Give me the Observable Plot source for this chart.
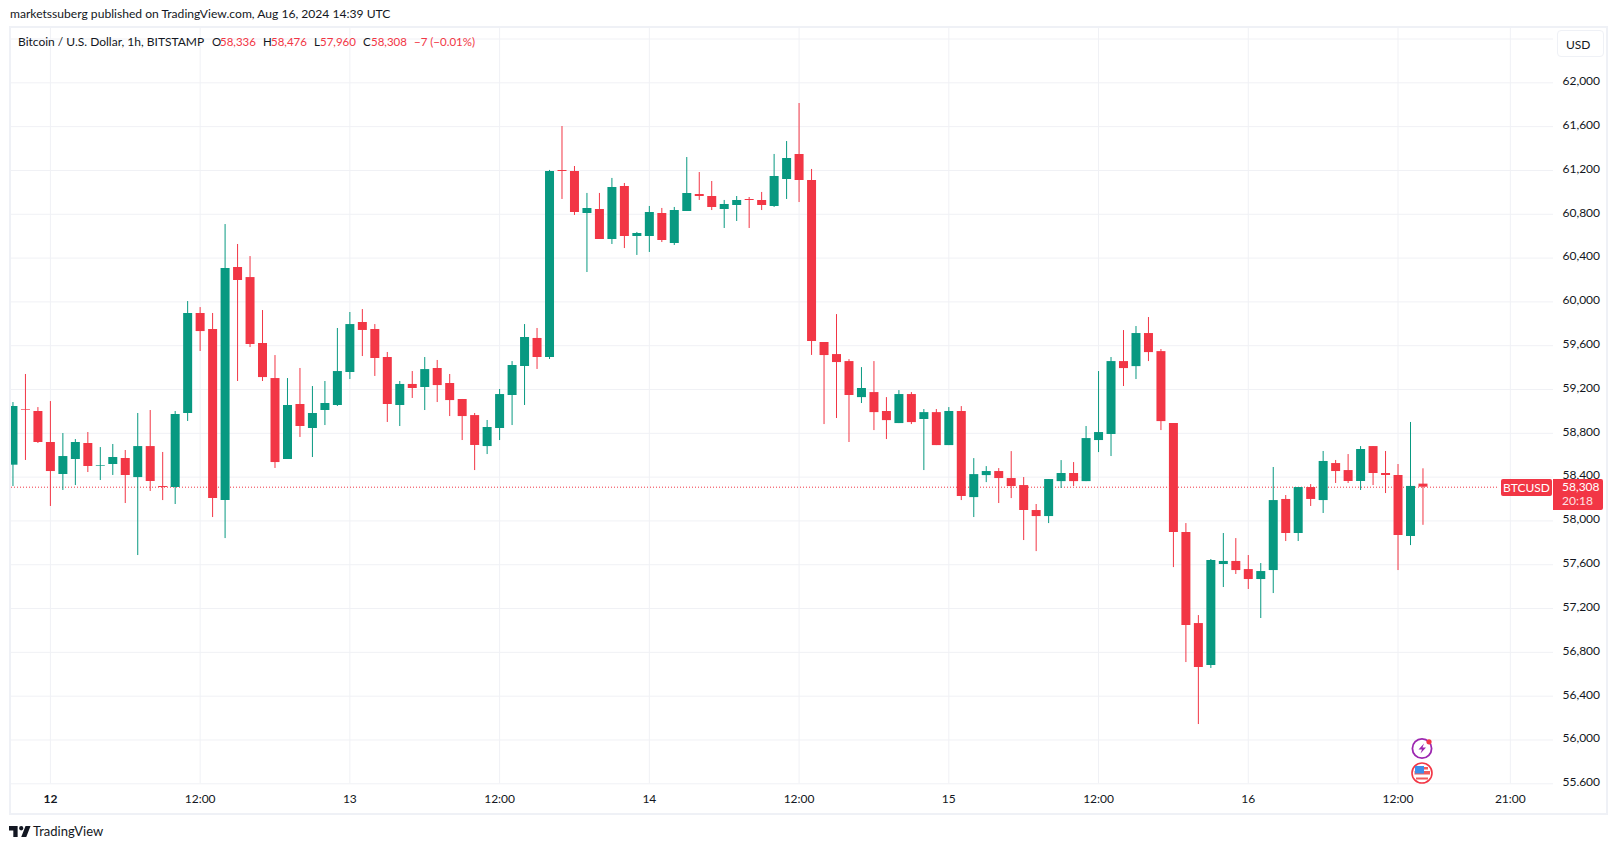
<!DOCTYPE html>
<html>
<head>
<meta charset="utf-8">
<script src="https://cdn.jsdelivr.net/npm/d3@7"></script>
<script src="https://cdn.jsdelivr.net/npm/@observablehq/plot@0.6"></script>
<style>
  html,body{margin:0;padding:0;background:#fff;}
  body{width:1617px;height:849px;position:relative;overflow:hidden;font-family:Lato,"Noto Sans",sans-serif;color:#131722;}
  .abs{position:absolute;white-space:nowrap;}
  #chart svg{position:absolute;left:0;top:28px;display:block;}
  .t{font-size:12.1px;line-height:16px;}
  .red{color:#F23645;}
</style>
</head>
<body>
<div id="chart"></div>
<script>
// Hours relative to 12 Aug 2024 00:00 UTC of the first candle, then one candle per hour
const firstHour = -3;
const opens = [58509,59017,58999,58716,58424,58561,58707,58500,58515,58570,58396,58679,58314,58305,58981,59894,59748,58186,60314,60222,59620,59300,58561,59063,58844,59008,59054,59355,59812,59748,59492,59054,59246,59218,59392,59255,59109,58962,58679,58844,59145,59410,59666,59492,61200,61190,60807,60844,60570,61054,60597,60597,60807,60533,60825,60981,60962,60844,60880,60935,60926,60871,61117,61346,61108,59629,59519,59455,59126,59172,58999,58889,59154,58926,58989,58688,58999,58213,58414,58451,58387,58323,58095,58040,58359,58433,58359,58734,58789,59455,59409,59711,59546,58889,57894,57063,56680,57602,57630,57556,57465,57547,58196,57885,58305,58186,58524,58460,58360,58679,58433,58415,57858,58336];
const highs = [59081,59337,59035,59090,58798,58743,58807,58670,58698,58643,58981,59008,58625,58999,60003,59948,59894,60706,60524,60414,59921,59510,59300,59392,59227,59273,59757,59903,59930,59793,59538,59273,59364,59492,59465,59337,59109,58981,58917,59200,59455,59793,59757,61200,61601,61236,60990,60990,61127,61081,60634,60871,60853,60862,61318,61181,61099,60926,60962,60953,60999,61346,61464,61811,61209,59629,59884,59473,59400,59455,59126,59190,59172,59017,59017,59035,59044,58569,58496,58478,58633,58396,58150,58378,58551,58533,58862,59364,59492,59738,59775,59857,59565,58889,57976,57136,57648,57885,57839,57684,57611,58488,58232,58305,58332,58634,58552,58606,58679,58679,58634,58515,58899,58476];
const lows = [58314,58552,58707,58132,58278,58323,58442,58369,58415,58159,57684,58269,58186,58150,58908,59547,58031,57839,59273,59583,59273,58479,58561,58762,58579,58871,59045,59291,59501,59319,58899,58862,59118,59008,59081,58953,58734,58460,58606,58734,58871,59054,59383,59474,60935,60789,60268,60570,60524,60487,60424,60451,60542,60515,60825,60926,60834,60670,60734,60670,60834,60862,60935,60907,59511,58880,58935,58716,59072,58825,58743,58889,58880,58460,58688,58688,58186,58031,58350,58159,58204,57821,57720,57976,58296,58314,58359,58624,58588,59227,59291,59455,58825,57574,56707,56141,56653,57392,57511,57374,57109,57337,57812,57812,58132,58068,58342,58342,58278,58323,58250,57547,57775,57960];
const closes = [59045,59011,58716,58451,58588,58716,58497,58506,58579,58415,58679,58360,58305,58972,59894,59729,58205,60305,60195,59611,59309,58533,59054,58862,58981,59072,59364,59793,59739,59483,59063,59246,59209,59382,59236,59099,58953,58689,58853,59154,59419,59675,59492,61190,61190,60816,60853,60570,61044,60597,60624,60816,60561,60834,60990,60962,60862,60889,60926,60926,60880,61145,61309,61108,59638,59510,59446,59145,59209,58989,58916,59154,58898,58989,58688,58999,58223,58423,58451,58387,58314,58095,58040,58378,58433,58359,58752,58807,59455,59391,59711,59537,58907,57894,57045,56662,57639,57630,57547,57465,57538,58186,57885,58305,58196,58543,58451,58360,58652,58433,58415,57867,58315,58308];

const priceTicks = [55600,56000,56400,56800,57200,57600,58000,58400,58800,59200,59600,60000,60400,60800,61200,61600,62000];
const gridPriceTop = 62400;
const timeTickHours = [0,12,24,36,48,60,72,84,96,108,117];
const timeTickLabels = ["12","12:00","13","12:00","14","12:00","15","12:00","16","12:00","21:00"];
const lastClose = 58308;
const domainHours = [-3.117,120.46];
const domainPrices = [55600,62496];

const up = "#089981", down = "#F23645", gridColor = "#f0f1f5";
const base = Date.UTC(2024,7,12);
const at = h => new Date(base + h*3600000);

const candles = opens.map((o,i)=>({t:at(firstHour+i),o,h:highs[i],l:lows[i],c:closes[i]}));
const colorOf = d => d.c >= d.o ? up : down;
const tickDates = timeTickHours.map(at);
const labelOf = new Map(tickDates.map((d,i)=>[+d,timeTickLabels[i]]));
const fmt = d3.format(",");

const chart = Plot.plot({
  width:1617, height:785,
  marginLeft:11, marginRight:64, marginTop:0, marginBottom:29.7,
  x:{type:"utc",domain:domainHours.map(at)},
  y:{domain:domainPrices},
  style:{fontFamily:"Lato, 'Noto Sans', sans-serif",fontSize:"12px",color:"#131722",background:"transparent",overflow:"visible"},
  marks:[
    Plot.gridY([...priceTicks,gridPriceTop],{stroke:gridColor,strokeOpacity:1,strokeWidth:1}),
    Plot.gridX(tickDates,{stroke:gridColor,strokeOpacity:1,strokeWidth:1}),
    Plot.ruleY([lastClose],{stroke:down,strokeWidth:1,strokeDasharray:"1,2",x1:domainHours.map(at)[0],x2:at(116)}),
    Plot.ruleX(candles,{x:"t",y1:"l",y2:"h",stroke:colorOf,strokeWidth:1,clip:"frame"}),
    Plot.ruleX(candles,{x:"t",y1:"o",y2:"c",stroke:colorOf,strokeWidth:9,clip:"frame"}),
    Plot.axisY(priceTicks,{anchor:"right",tickSize:0,tickPadding:9,tickFormat:fmt,label:null,fontSize:12,dy:-1.5}),
    Plot.axisX(tickDates.slice(1),{anchor:"bottom",tickSize:0,tickPadding:11,tickFormat:d=>labelOf.get(+d),label:null}),
    Plot.axisX(tickDates.slice(0,1),{anchor:"bottom",tickSize:0,tickPadding:11,tickFormat:d=>labelOf.get(+d),label:null,fontWeight:"bold"})
  ]
});
document.getElementById("chart").appendChild(chart);

const xs = chart.scale("x"), ys = chart.scale("y");
const priceY = 28 + ys.apply(lastClose);
const lastX = xs.apply(at(firstHour+opens.length-1));

function add(html){const w=document.createElement("div");w.innerHTML=html.trim();document.body.appendChild(w.firstChild);}

// header, frame and footer
add(`<div class="abs t" style="left:10px;top:6px;">marketssuberg published on TradingView.com, Aug 16, 2024 14:39 UTC</div>`);
add(`<div class="abs" style="left:9px;top:26px;width:1595px;height:785px;border:2px solid #eff1f6;pointer-events:none;"></div>`);
add(`<div class="abs" style="left:1554px;top:786px;width:50px;height:24px;background:#fff;"></div>`);
add(`<svg class="abs" style="left:9px;top:824px;" width="23" height="15" viewBox="2 5 32 17"><path fill="#131722" d="M14 6H2v6h6v9h6V6Zm12 15h-7l6-15h7l-6 15Zm-7-9a3 3 0 1 0 0-6 3 3 0 0 0 0 6Z"/></svg>`);
add(`<div class="abs t" style="left:33px;top:823px;font-size:13px;">TradingView</div>`);

// legend
const legend = [
  [18,"Bitcoin / U.S. Dollar, 1h, BITSTAMP","",12],
  [212,"O","",11.5],[220,"58,336","red",11.5],
  [263,"H","",11.5],[271,"58,476","red",11.5],
  [314,"L","",11.5],[320,"57,960","red",11.5],
  [363,"C","",11.5],[371,"58,308","red",11.5],
  [414,"\u22127 (\u22120.01%)","red",11.5]
];
legend.forEach(([x,s,c,f])=>add(`<div class="abs t ${c}" style="left:${x}px;top:34px;font-size:${f}px;">${s}</div>`));

// USD button
add(`<div class="abs" style="left:1557px;top:30px;width:47px;height:27px;border:1px solid #eff1f6;border-radius:4px;background:#fff;font-size:12px;line-height:27px;padding-left:8px;box-sizing:border-box;">USD</div>`);

// last-price labels
add(`<div class="abs" style="left:1501px;top:${priceY-8}px;width:51px;height:17px;background:${down};border-radius:2px;color:#fff;font-size:12px;line-height:17px;text-align:center;">BTCUSD</div>`);
add(`<div class="abs" style="left:1553px;top:${priceY-8}px;width:50px;height:31px;background:${down};border-radius:0 2px 2px 0;color:#fff;font-size:12px;line-height:14px;padding:1px 0 0 9px;box-sizing:border-box;">${fmt(lastClose)}<br><span style="opacity:.85">20:18</span></div>`);

// event icons
add(`<svg class="abs" style="left:${lastX-12}px;top:736px;" width="25" height="50" viewBox="0 0 25 50">
  <circle cx="12" cy="12.5" r="9.6" fill="#fff" stroke="#9C27B0" stroke-width="1.8"/>
  <path d="M14 7.5 L8.5 13.5 H12 L10.5 17.5 L16 11.5 H12.5 Z" fill="#9C27B0"/>
  <circle cx="19" cy="5.8" r="2.6" fill="#F23645"/>
  <circle cx="12" cy="37" r="10" fill="#fff" stroke="#F23645" stroke-width="1.6"/>
  <path d="M4.5 35 H20 V38.5 H4.5 Z M6 41.5 H18 V43.5 H6 Z M12 31 H18 V33.5 H12 Z" fill="#F15B5B"/>
  <rect x="5" y="30" width="9" height="7.5" fill="#3E8EE8"/>
</svg>`);
</script>
</body>
</html>
